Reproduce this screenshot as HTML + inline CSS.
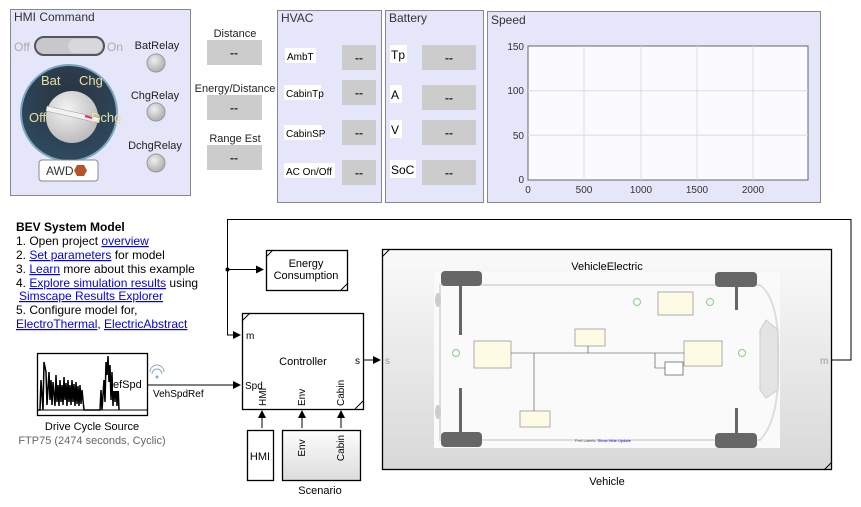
<!DOCTYPE html>
<html><head><meta charset="utf-8"><style>
body{margin:0;background:#fff;}
svg{display:block;font-family:"Liberation Sans",sans-serif;}
</style></head><body>
<svg width="861" height="507" viewBox="0 0 861 507" xmlns="http://www.w3.org/2000/svg">
<defs>
<linearGradient id="vg" x1="0" y1="0" x2="0" y2="1"><stop offset="0" stop-color="#fafafa"/><stop offset="1" stop-color="#d8d8d8"/></linearGradient>
<linearGradient id="sg" x1="0" y1="0" x2="0" y2="1"><stop offset="0" stop-color="#fdfdfd"/><stop offset="1" stop-color="#dcdcdc"/></linearGradient>
<radialGradient id="kb" cx="0.5" cy="0.3" r="0.7"><stop offset="0" stop-color="#2a3442"/><stop offset="1" stop-color="#2e4a5e"/></radialGradient>
<radialGradient id="kn" cx="0.4" cy="0.35" r="0.7"><stop offset="0" stop-color="#f4f4f4"/><stop offset="1" stop-color="#b8b8b8"/></radialGradient>
<radialGradient id="lamp" cx="0.4" cy="0.35" r="0.7"><stop offset="0" stop-color="#eee"/><stop offset="1" stop-color="#aaa"/></radialGradient>
<marker id="ar" markerWidth="8" markerHeight="8" refX="7" refY="4" orient="auto" markerUnits="userSpaceOnUse"><path d="M0,0 L8,4 L0,8z" fill="#000"/></marker>
</defs>

<!-- HMI Command panel -->
<rect x="10.5" y="9.5" width="180" height="186" fill="#e6e6fa" stroke="#888"/>
<text x="14" y="21" font-size="12" fill="#333">HMI Command</text>
<text x="14" y="51" font-size="12" fill="#aaa">Off</text>
<text x="107" y="51" font-size="12" fill="#aaa">On</text>
<rect x="35" y="37" width="69" height="18" rx="9" fill="#c8c8cc" stroke="#555" stroke-width="2"/>
<rect x="68" y="39" width="34" height="14" rx="7" fill="#d8d8dc"/>
<circle cx="69" cy="113" r="48" fill="url(#kb)" stroke="#7aa6c0" stroke-width="2"/>
<circle cx="72" cy="117" r="26" fill="url(#kn)"/>
<path d="M47,106 L100,118 L99,123 L46,111z" fill="#f2f2f2" stroke="#999" stroke-width="0.5"/>
<line x1="85" y1="116" x2="92" y2="118" stroke="#e03060" stroke-width="2"/>
<g font-size="13" fill="#e8e0a0">
<text x="41" y="85">Bat</text>
<text x="79" y="85">Chg</text>
<text x="29" y="122">Off</text>
<text x="91" y="122">Dchg</text>
</g>
<rect x="39" y="160" width="59" height="21" rx="3" fill="#fff" stroke="#888"/>
<text x="46" y="175" font-size="12" fill="#333">AWD</text>
<polygon points="77,165 84,165 87,170.5 84,176 77,176 74,170.5" fill="#b5532a"/>
<text x="157" y="49" font-size="11" text-anchor="middle" fill="#222">BatRelay</text>
<circle cx="156" cy="63" r="9" fill="url(#lamp)" stroke="#999"/>
<text x="155" y="99" font-size="11" text-anchor="middle" fill="#222">ChgRelay</text>
<circle cx="156" cy="112" r="9" fill="url(#lamp)" stroke="#999"/>
<text x="155" y="149" font-size="11" text-anchor="middle" fill="#222">DchgRelay</text>
<circle cx="156" cy="163" r="9" fill="url(#lamp)" stroke="#999"/>

<!-- Distance etc -->
<g font-size="11" fill="#222" text-anchor="middle">
<text x="235" y="37">Distance</text>
<text x="235" y="92">Energy/Distance</text>
<text x="235" y="142">Range Est</text>
</g>
<rect x="207" y="40" width="55" height="25" fill="#ccc"/>
<rect x="207" y="95" width="55" height="25" fill="#ccc"/>
<rect x="207" y="145" width="55" height="25" fill="#ccc"/>
<g font-size="12" fill="#333" text-anchor="middle" font-weight="bold">
<text x="234" y="57">--</text><text x="234" y="112">--</text><text x="234" y="162">--</text>
</g>

<!-- HVAC -->
<rect x="277.5" y="10.5" width="104" height="192" fill="#e6e6fa" stroke="#888"/>
<text x="281" y="22" font-size="12" fill="#333">HVAC</text>
<g font-size="10" fill="#000">
<rect x="285" y="48" width="31" height="15" fill="#fff"/><text x="287" y="60">AmbT</text>
<rect x="284" y="85" width="37" height="15" fill="#fff"/><text x="286" y="97">CabinTp</text>
<rect x="284" y="125" width="38" height="15" fill="#fff"/><text x="286" y="137">CabinSP</text>
<rect x="284" y="163" width="51" height="15" fill="#fff"/><text x="286" y="175">AC On/Off</text>
</g>
<g fill="#ccc"><rect x="342" y="45" width="34" height="25"/><rect x="342" y="80" width="34" height="25"/><rect x="342" y="120" width="34" height="25"/><rect x="342" y="160" width="34" height="25"/></g>
<g font-size="12" fill="#333" text-anchor="middle" font-weight="bold">
<text x="359" y="62">--</text><text x="359" y="97">--</text><text x="359" y="137">--</text><text x="359" y="177">--</text>
</g>

<!-- Battery -->
<rect x="385.5" y="10.5" width="98" height="192" fill="#e6e6fa" stroke="#888"/>
<text x="389" y="22" font-size="12" fill="#333">Battery</text>
<g font-size="12" fill="#000">
<rect x="390" y="45" width="17" height="18" fill="#fff"/><text x="391" y="59">Tp</text>
<rect x="390" y="85" width="12" height="18" fill="#fff"/><text x="391" y="99">A</text>
<rect x="390" y="120" width="12" height="18" fill="#fff"/><text x="391" y="134">V</text>
<rect x="390" y="160" width="26" height="18" fill="#fff"/><text x="391" y="174">SoC</text>
</g>
<g fill="#ccc"><rect x="422" y="45" width="54" height="25"/><rect x="422" y="85" width="54" height="25"/><rect x="422" y="120" width="54" height="25"/><rect x="422" y="160" width="54" height="25"/></g>
<g font-size="12" fill="#333" text-anchor="middle" font-weight="bold">
<text x="449" y="62">--</text><text x="449" y="102">--</text><text x="449" y="137">--</text><text x="449" y="177">--</text>
</g>

<!-- Speed -->
<rect x="487.5" y="11.5" width="333" height="191" fill="#e6e6fa" stroke="#888"/>
<text x="491" y="24" font-size="12" fill="#333">Speed</text>
<rect x="528" y="46" width="280" height="134" fill="#fafaff" stroke="#666"/>
<g stroke="#ddd"><line x1="528" y1="90.7" x2="808" y2="90.7"/><line x1="528" y1="135.3" x2="808" y2="135.3"/>
<line x1="584" y1="46" x2="584" y2="180"/><line x1="641" y1="46" x2="641" y2="180"/><line x1="697" y1="46" x2="697" y2="180"/><line x1="753" y1="46" x2="753" y2="180"/></g>
<g font-size="10" fill="#333" text-anchor="end">
<text x="524" y="50">150</text><text x="524" y="94">100</text><text x="524" y="139">50</text><text x="524" y="183">0</text>
</g>
<g font-size="10" fill="#333" text-anchor="middle">
<text x="528" y="193">0</text><text x="584" y="193">500</text><text x="641" y="193">1000</text><text x="697" y="193">1500</text><text x="753" y="193">2000</text>
</g>

<!-- Text block -->
<g font-size="12" fill="#000">
<text x="16" y="231" font-weight="bold">BEV System Model</text>
<text x="16" y="245">1. Open project <tspan fill="#00e" text-decoration="underline">overview</tspan></text>
<text x="16" y="259">2. <tspan fill="#00e" text-decoration="underline">Set parameters</tspan> for model</text>
<text x="16" y="273">3. <tspan fill="#00e" text-decoration="underline">Learn</tspan> more about this example</text>
<text x="16" y="287">4. <tspan fill="#00e" text-decoration="underline">Explore simulation results</tspan> using</text>
<text x="19" y="300" fill="#00e" text-decoration="underline">Simscape Results Explorer</text>
<text x="16" y="314">5. Configure model for,</text>
<text x="16" y="328"><tspan fill="#00e" text-decoration="underline">ElectroThermal</tspan>, <tspan fill="#00e" text-decoration="underline">ElectricAbstract</tspan></text>
</g>

<!-- Loop lines -->
<g fill="none" stroke="#000">
<polyline points="832,360 851,360 851,219.5 227.5,219.5 227.5,335 240,335" marker-end="url(#ar)"/>
<line x1="227.5" y1="269.5" x2="263" y2="269.5" marker-end="url(#ar)"/>
<line x1="364" y1="360" x2="380" y2="360" marker-end="url(#ar)"/>
<line x1="147" y1="385" x2="240" y2="385" marker-end="url(#ar)"/>
<line x1="262" y1="428" x2="262" y2="411" marker-end="url(#ar)"/>
<line x1="302" y1="428" x2="302" y2="411" marker-end="url(#ar)"/>
<line x1="341" y1="428" x2="341" y2="411" marker-end="url(#ar)"/>
</g>
<circle cx="227.5" cy="269.5" r="2" fill="#000"/>

<!-- Energy consumption -->
<rect x="266.5" y="250.5" width="81" height="40" fill="#fff" stroke="#000" stroke-width="1.3"/>
<line x1="266" y1="257" x2="273" y2="250" stroke="#000"/><line x1="341" y1="290" x2="348" y2="283" stroke="#000"/>
<text x="306" y="267" font-size="11" text-anchor="middle">Energy</text>
<text x="306" y="279" font-size="11" text-anchor="middle">Consumption</text>

<!-- Controller -->
<rect x="242.5" y="313.5" width="121" height="96" fill="#fff" stroke="#000" stroke-width="1.3"/>
<line x1="242" y1="321" x2="250" y2="313" stroke="#000"/><line x1="355" y1="409" x2="363" y2="401" stroke="#000"/>
<text x="303" y="365" font-size="11" text-anchor="middle">Controller</text>
<text x="246" y="339" font-size="10">m</text>
<text x="245" y="389" font-size="10">Spd</text>
<text x="355" y="364" font-size="10">s</text>
<g font-size="10">
<text transform="translate(266,406) rotate(-90)">HMI</text>
<text transform="translate(305,406) rotate(-90)">Env</text>
<text transform="translate(344,406) rotate(-90)">Cabin</text>
</g>

<!-- HMI & Scenario -->
<rect x="247.5" y="430.5" width="26" height="50" fill="#fff" stroke="#000" stroke-width="1.3"/>
<text x="260" y="460" font-size="11" text-anchor="middle">HMI</text>
<rect x="282.5" y="430.5" width="78" height="50" fill="url(#sg)" stroke="#000" stroke-width="1.3"/>
<g font-size="10">
<text transform="translate(305,448) rotate(-90)" text-anchor="middle">Env</text>
<text transform="translate(344,448) rotate(-90)" text-anchor="middle">Cabin</text>
</g>
<text x="320" y="494" font-size="11" text-anchor="middle">Scenario</text>

<!-- Drive Cycle Source -->
<rect x="37.5" y="353.5" width="110" height="62" fill="#fff" stroke="#000" stroke-width="1.3"/>
<line x1="38" y1="410" x2="147" y2="410" stroke="#000"/>
<path d="M38,410 L40,410 L41,380 L43,410 L44,362 L46,372 L47,405 L49,372 L50,400 L51,380 L52,405 L53,382 L55,406 L56,375 L57,402 L58,385 L59,406 L60,380 L61,402 L62,385 L63,405 L64,377 L65,400 L66,383 L67,406 L68,380 L69,402 L70,385 L71,405 L72,380 L73,402 L74,384 L75,406 L76,382 L77,404 L78,386 L79,406 L80,385 L81,404 L82,390 L84,410 L100,410 L101,390 L102,410 L104,380 L105,402 L106,362 L107,375 L108,356 L109,382 L110,365 L111,400 L112,372 L113,406 L114,378 L115,402 L116,380 L117,406 L118,385 L119,410" fill="none" stroke="#000" stroke-width="1.5"/>
<rect x="113" y="377" width="33" height="14" fill="#fff"/>
<text x="113" y="388" font-size="11">efSpd</text>
<text x="92" y="430" font-size="11" text-anchor="middle">Drive Cycle Source</text>
<text x="92" y="444" font-size="11" text-anchor="middle" fill="#666">FTP75 (2474  seconds, Cyclic)</text>
<path d="M152,374 a5,5 0 0 1 10,0 M150,372 a7,7 0 0 1 14,0" fill="none" stroke="#8ac" stroke-width="1"/>
<circle cx="157" cy="377" r="1.5" fill="#8ac"/>
<text x="153" y="397" font-size="10">VehSpdRef</text>

<!-- Vehicle -->
<rect x="382.5" y="249.5" width="449" height="220" fill="url(#vg)" stroke="#000" stroke-width="1.3"/>
<line x1="382" y1="257" x2="390" y2="249" stroke="#000"/><line x1="824" y1="470" x2="832" y2="462" stroke="#000"/>
<text x="385" y="364" font-size="10" fill="#999">s</text>
<text x="820" y="364" font-size="10" fill="#999">m</text>
<rect x="434" y="272" width="346" height="176" fill="#fafafa"/>
<path d="M440,285 L760,285 Q780,300 778,360 Q780,420 760,440 L440,440 Z" fill="none" stroke="#ddd" stroke-width="2"/>
<path d="M766,320 L778,330 L778,390 L766,398 L760,390 L760,330z" fill="#e4e4e4" stroke="#ccc"/>
<ellipse cx="438" cy="300" rx="3" ry="7" fill="#ccc"/><ellipse cx="438" cy="412" rx="3" ry="7" fill="#ccc"/>
<g fill="#666">
<rect x="441" y="271" width="41" height="15" rx="4"/><rect x="441" y="432" width="41" height="15" rx="4"/>
<rect x="715" y="272" width="42" height="15" rx="4"/><rect x="715" y="433" width="42" height="15" rx="4"/>
<rect x="459" y="285" width="3" height="50"/><rect x="459" y="388" width="3" height="46"/>
<rect x="735" y="286" width="3" height="24"/><rect x="735" y="408" width="3" height="26"/>
</g>
<text x="607" y="270" font-size="11" text-anchor="middle">VehicleElectric</text>
<g fill="#fdfbe4" stroke="#999" stroke-width="0.8">
<rect x="474" y="341" width="37" height="27"/><rect x="658" y="292" width="35" height="23"/>
<rect x="575" y="329" width="30" height="17"/><rect x="684" y="341" width="38" height="25"/>
<rect x="520" y="411" width="30" height="16"/>
</g>
<rect x="665" y="362" width="18" height="13" fill="#fff" stroke="#666" stroke-width="0.8"/>
<g fill="none" stroke="#444" stroke-width="0.6">
<line x1="511" y1="353" x2="684" y2="353"/><line x1="534" y1="353" x2="534" y2="411"/>
<line x1="588" y1="346" x2="588" y2="353"/><polyline points="655,353 655,368 665,368"/>
</g>
<g fill="none" stroke="#8c8" stroke-width="1"><circle cx="456" cy="353" r="3.5"/><circle cx="637" cy="302" r="3.5"/><circle cx="710" cy="302" r="3.5"/><circle cx="742" cy="353" r="3.5"/></g>
<text x="575" y="442" font-size="4" fill="#555">Port Labels: <tspan fill="#00e">Show  Hide  Update</tspan></text>
<text x="607" y="485" font-size="11" text-anchor="middle">Vehicle</text>
</svg>
</body></html>
